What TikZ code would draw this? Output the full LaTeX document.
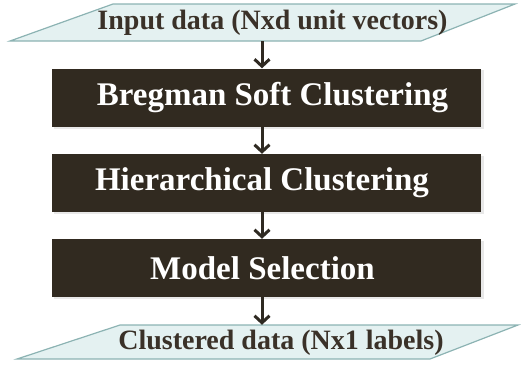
\documentclass[tikz,border=0pt]{standalone}
\usepackage{fontspec}
\setmainfont{Liberation Serif}
\usetikzlibrary{arrows.meta}
\definecolor{boxfill}{HTML}{312A20}
\definecolor{iofill}{HTML}{E4F1F1}
\definecolor{iodraw}{HTML}{8CB3B3}
\definecolor{iotext}{HTML}{3A3128}
\definecolor{arrowc}{HTML}{2F2A22}
\tikzset{
  stepbox/.style={fill=boxfill, minimum width=429pt, minimum height=58pt, inner sep=0pt,
    text=white, font=\bfseries\fontsize{33}{36}\selectfont},
  iotxt/.style={text=iotext, font=\bfseries\fontsize{28}{30}\selectfont, inner sep=0pt},
  iobox/.style={fill=iofill, draw=iodraw, line width=1.2pt},
  shade/.style={fill=black!30, opacity=0.3},
  flow/.style={draw=arrowc, line width=3pt, -{Straight Barb[length=7pt,width=15pt,line width=3pt]}}
}
\begin{document}
\begin{tikzpicture}[x=1pt,y=-1pt]
\useasboundingbox (0,0) rectangle (521,365);
% input parallelogram
\draw[iobox] (10,41) -- (113,4) -- (515,4) -- (421,41) -- cycle;
\node[inner sep=0pt, minimum width=300pt, minimum height=37pt] (in) at (262,22.5) {};
\node[iotxt] (intext) at (272.5,23) {Input data (Nxd unit vectors)};
% shadows
\fill[shade] (54,70) rectangle (483.5,129);
\fill[shade] (54,156) rectangle (483.5,214);
\fill[shade] (54,241) rectangle (483.5,299);
% boxes
\node[stepbox] (b1) at (266.5,97.5) {\hspace*{12pt}Bregman Soft Clustering};
\node[stepbox] (b2) at (266.5,183) {Hierarchical Clustering\hspace*{9pt}};
\node[stepbox] (b3) at (266.5,268) {Model Selection\hspace*{8pt}};
% output parallelogram
\draw[iobox] (17,359) -- (120,325) -- (518,325) -- (430,359) -- cycle;
\node[inner sep=0pt, minimum width=300pt, minimum height=34pt] (out) at (262,342) {};
\node[iotxt] (outtext) at (281,342.5) {Clustered data (Nx1 labels)};
% arrows
\draw[flow] (in.south) -- (in.south |- b1.north);
\draw[flow] (b1.south -| in.south) -- (b2.north -| in.south);
\draw[flow] (b2.south -| in.south) -- (b3.north -| in.south);
\draw[flow] (b3.south -| in.south) -- (out.north);
\end{tikzpicture}
\end{document}
